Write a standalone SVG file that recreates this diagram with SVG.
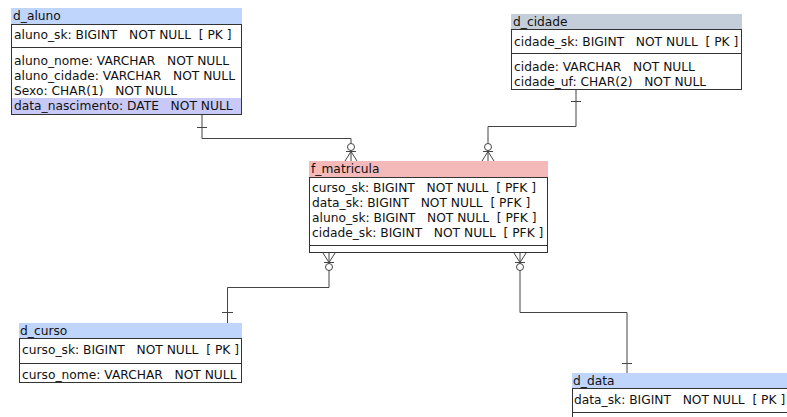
<svg xmlns="http://www.w3.org/2000/svg" width="787" height="417" viewBox="0 0 787 417" xml:space="preserve">
<style>
text{font-family:"DejaVu Sans",sans-serif;font-size:12.25px;fill:#111;white-space:pre}
.box{fill:#fff;stroke:#333;stroke-width:1}
.sep{stroke:#333;stroke-width:1}
.conn{fill:none;stroke:#444;stroke-width:1}
.hb{fill:#bfd5fb}
.hg{fill:#c4ceda}
.hr{fill:#f4baba}
.hl{fill:#c9c9f7}
</style>
<rect width="787" height="417" fill="#fff"/>
<g id="connectors" class="conn">
  <path d="M202 115V138.5H351V161"/>
  <path d="M197 127.5H207"/>
  <circle cx="351" cy="147" r="3.5" fill="#fff"/>
  <path d="M346 151.5H356M351 151.5L345 161M351 151.5L357 161"/>
  <path d="M576 90V126.5H488V161"/>
  <path d="M571 101.5H581"/>
  <circle cx="488" cy="147" r="3.5" fill="#fff"/>
  <path d="M483 151.5H493M488 151.5L482 161M488 151.5L494 161"/>
  <path d="M329 253V287.5H227.5V323"/>
  <path d="M222 312.5H233"/>
  <path d="M324 262.5H334M329 262.5L323 253M329 262.5L335 253"/>
  <circle cx="329" cy="267" r="3.5" fill="#fff"/>
  <path d="M520 253V312.5H627V373"/>
  <path d="M622 363.5H632"/>
  <path d="M515 262.5H525M520 262.5L514 253M520 262.5L526 253"/>
  <circle cx="520" cy="267" r="3.5" fill="#fff"/>
</g>
<g id="d_aluno">
  <rect x="11" y="8" width="231" height="16" class="hb"/>
  <text x="13" y="20">d_aluno</text>
  <rect x="11.5" y="24.5" width="230" height="90" class="box"/>
  <rect x="12" y="98" width="229" height="16" class="hl"/>
  <line x1="11.5" y1="47.5" x2="241.5" y2="47.5" class="sep"/>
  <text x="14" y="39">aluno_sk: BIGINT   NOT NULL  [ PK ]</text>
  <text x="14" y="65">aluno_nome: VARCHAR   NOT NULL</text>
  <text x="14" y="80">aluno_cidade: VARCHAR   NOT NULL</text>
  <text x="14" y="95">Sexo: CHAR(1)   NOT NULL</text>
  <text x="14" y="110">data_nascimento: DATE   NOT NULL</text>
</g>
<g id="d_cidade">
  <rect x="511" y="14" width="231" height="15" class="hg"/>
  <text x="513" y="26">d_cidade</text>
  <rect x="511.5" y="29.5" width="230" height="60" class="box"/>
  <line x1="511.5" y1="53.5" x2="741.5" y2="53.5" class="sep"/>
  <text x="514" y="46">cidade_sk: BIGINT   NOT NULL  [ PK ]</text>
  <text x="514" y="71">cidade: VARCHAR   NOT NULL</text>
  <text x="514" y="86">cidade_uf: CHAR(2)   NOT NULL</text>
</g>
<g id="f_matricula">
  <rect x="309" y="161" width="239" height="16" class="hr"/>
  <text x="311" y="173">f_matricula</text>
  <rect x="309.5" y="177.5" width="238" height="75" class="box"/>
  <line x1="309.5" y1="245.5" x2="547.5" y2="245.5" class="sep"/>
  <text x="312" y="192">curso_sk: BIGINT   NOT NULL  [ PFK ]</text>
  <text x="312" y="207">data_sk: BIGINT   NOT NULL  [ PFK ]</text>
  <text x="312" y="222">aluno_sk: BIGINT   NOT NULL  [ PFK ]</text>
  <text x="312" y="237">cidade_sk: BIGINT   NOT NULL  [ PFK ]</text>
</g>
<g id="d_curso">
  <rect x="19" y="323" width="223" height="15" class="hb"/>
  <text x="20" y="335">d_curso</text>
  <rect x="19.5" y="338.5" width="222" height="44" class="box"/>
  <line x1="19.5" y1="363.5" x2="241.5" y2="363.5" class="sep"/>
  <text x="22" y="354">curso_sk: BIGINT   NOT NULL  [ PK ]</text>
  <text x="22" y="379">curso_nome: VARCHAR   NOT NULL</text>
</g>
<g id="d_data">
  <rect x="572" y="373" width="215" height="15" class="hb"/>
  <text x="573" y="385">d_data</text>
  <rect x="572.5" y="388.5" width="220" height="40" class="box"/>
  <line x1="572.5" y1="412.5" x2="787" y2="412.5" class="sep"/>
  <text x="574" y="404">data_sk: BIGINT   NOT NULL  [ PK ]</text>
</g>
</svg>
